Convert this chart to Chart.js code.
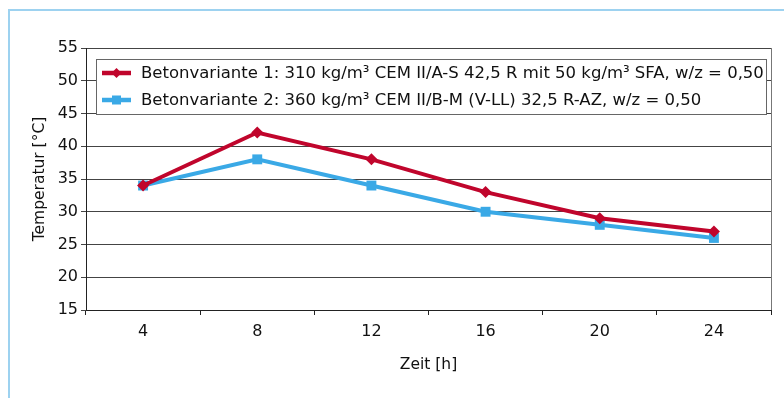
<!DOCTYPE html>
<html>
<head>
<meta charset="utf-8">
<script src="https://cdn.jsdelivr.net/npm/chart.js@4/dist/chart.umd.min.js"></script>
<style>
  html, body { margin: 0; padding: 0; background: #fff; }
  #wrap { position: relative; width: 784px; height: 398px; overflow: hidden; }
  #frame { position: absolute; left: 8px; top: 9px; width: 800px; height: 420px;
           border-left: 2px solid #9dd2f0; border-top: 2px solid #9dd2f0; box-sizing: border-box; }
  canvas { position: absolute; left: 0; top: 0; }
</style>
</head>
<body>
<div id="wrap">
  <div id="frame"></div>
  <canvas id="c" width="784" height="398"></canvas>
</div>
<script>
// Time after casting [h]
const hours = ['4', '8', '12', '16', '20', '24'];

// Concrete temperature [°C] for both mixes
const variant1 = [34, 42.1, 38, 33, 29, 27];
const variant2 = [34, 38, 34, 30, 28, 26];

const label1 = 'Betonvariante 1: 310 kg/m³ CEM II/A-S 42,5 R mit 50 kg/m³ SFA, w/z = 0,50';
const label2 = 'Betonvariante 2: 360 kg/m³ CEM II/B-M (V-LL) 32,5 R-AZ, w/z = 0,50';

const yTicks = [15, 20, 25, 30, 35, 40, 45, 50, 55];

const FONT = '"DejaVu Sans", Verdana, sans-serif';
const RED = '#c0052c';
const BLUE = '#3aa9e6';

// Right frame line of the plot area and the boxed legend inside it
const framePlugin = {
  id: 'framePlugin',
  afterDraw(chart) {
    const { ctx, chartArea } = chart;
    ctx.save();
    ctx.strokeStyle = '#777';
    ctx.lineWidth = 1;
    ctx.beginPath();
    ctx.moveTo(Math.round(chartArea.right) + 0.5, chartArea.top);
    ctx.lineTo(Math.round(chartArea.right) + 0.5, chartArea.bottom);
    ctx.stroke();

    // legend box
    const bx = 96.5, by = 59.5, bw = 670, bh = 55;
    ctx.fillStyle = '#fff';
    ctx.fillRect(bx, by, bw, bh);
    ctx.strokeStyle = '#666';
    ctx.strokeRect(bx, by, bw, bh);

    const rows = [
      { ds: chart.data.datasets[0], y: 73 },
      { ds: chart.data.datasets[1], y: 100 }
    ];
    ctx.font = '16.5px ' + FONT;
    ctx.textBaseline = 'middle';
    rows.forEach(r => {
      ctx.strokeStyle = r.ds.borderColor;
      ctx.lineWidth = 4.5;
      ctx.beginPath();
      ctx.moveTo(102, r.y);
      ctx.lineTo(131, r.y);
      ctx.stroke();
      ctx.fillStyle = r.ds.borderColor;
      const mx = 116.5;
      if (r.ds.pointStyle === 'rectRot') {
        ctx.beginPath();
        ctx.moveTo(mx, r.y - 5);
        ctx.lineTo(mx + 5, r.y);
        ctx.lineTo(mx, r.y + 5);
        ctx.lineTo(mx - 5, r.y);
        ctx.closePath();
        ctx.fill();
      } else {
        ctx.fillRect(mx - 4.5, r.y - 4.5, 9, 9);
      }
      ctx.fillStyle = '#111';
      ctx.fillText(r.ds.label, 141, r.y + 1);
    });
    ctx.restore();
  }
};

new Chart(document.getElementById('c'), {
  type: 'line',
  data: {
    labels: hours,
    datasets: [
      {
        label: label1,
        data: variant1,
        borderColor: RED,
        backgroundColor: RED,
        borderWidth: 4,
        pointStyle: 'rectRot',
        pointRadius: 6,
        pointHoverRadius: 6,
        pointBorderWidth: 0,
        tension: 0
      },
      {
        label: label2,
        data: variant2,
        borderColor: BLUE,
        backgroundColor: BLUE,
        borderWidth: 4,
        pointStyle: 'rect',
        pointRadius: 7,
        pointHoverRadius: 7,
        pointBorderWidth: 0,
        tension: 0
      }
    ]
  },
  options: {
    responsive: false,
    animation: false,
    devicePixelRatio: 1,
    layout: { padding: { left: 0, top: 48, right: 13, bottom: 0 } },
    plugins: {
      legend: { display: false },
      tooltip: { enabled: false }
    },
    scales: {
      x: {
        offset: true,
        grid: {
          offset: true,
          drawOnChartArea: false,
          drawTicks: true,
          tickLength: 5,
          color: '#222'
        },
        border: { color: '#222', width: 1 },
        ticks: {
          color: '#111',
          font: { family: FONT, size: 16 },
          padding: 7,
          maxRotation: 0
        },
        title: {
          display: true,
          text: 'Zeit [h]',
          color: '#111',
          font: { family: FONT, size: 15.5 },
          padding: { top: 0, bottom: 24 }
        },
        afterFit(scale) { scale.height = 88; }
      },
      y: {
        min: 15,
        max: 55,
        afterBuildTicks(scale) { scale.ticks = yTicks.map(v => ({ value: v })); },
        grid: {
          color: '#444',
          lineWidth: 1,
          drawTicks: true,
          tickLength: 5
        },
        border: { color: '#222', width: 1 },
        ticks: {
          color: '#111',
          font: { family: FONT, size: 16 },
          padding: 3
        },
        title: {
          display: true,
          text: 'Temperatur [°C]',
          color: '#111',
          font: { family: FONT, size: 15.5 },
          padding: { top: 31, bottom: 0 }
        },
        afterFit(scale) { scale.width = 86; }
      }
    }
  },
  plugins: [framePlugin]
});
</script>
</body>
</html>
